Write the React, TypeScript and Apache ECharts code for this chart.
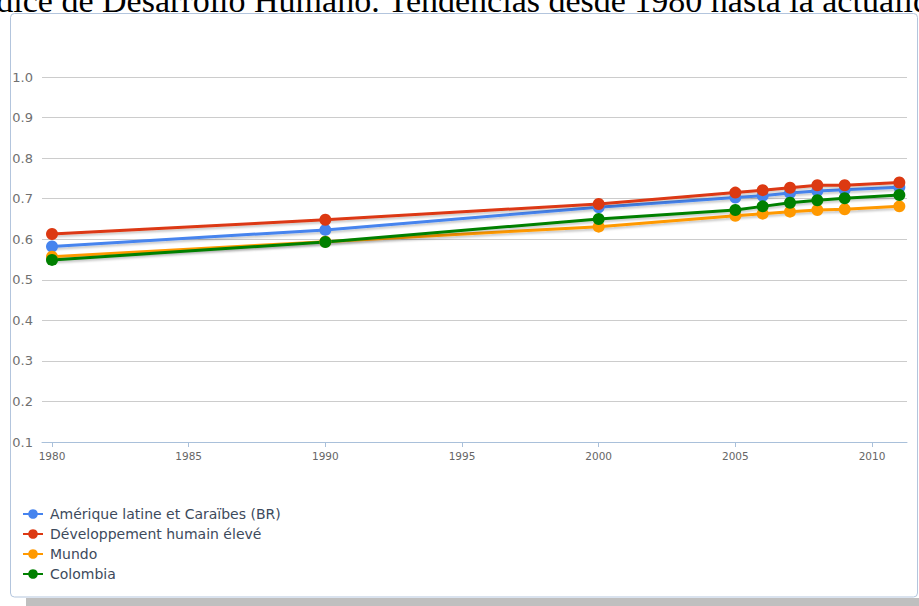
import React, { useEffect, useRef } from "react";
import * as echarts from "echarts";

const years = [1980, 1990, 2000, 2005, 2006, 2007, 2008, 2009, 2011];
const seriesNames = [
  "Amérique latine et Caraïbes (BR)",
  "Développement humain élevé",
  "Mundo",
  "Colombia",
];
const latam = [0.582, 0.623, 0.679, 0.703, 0.707, 0.714, 0.719, 0.722, 0.728];
const highHD = [0.613, 0.648, 0.687, 0.715, 0.721, 0.727, 0.733, 0.733, 0.740];
const world = [0.557, 0.594, 0.631, 0.658, 0.663, 0.668, 0.672, 0.674, 0.681];
const colombia = [0.549, 0.593, 0.650, 0.672, 0.681, 0.690, 0.696, 0.701, 0.709];
const colors = ["#4684ee", "#dc3912", "#ff9900", "#008000"];
const xTicks = [1980, 1985, 1990, 1995, 2000, 2005, 2010];
const titleText = "Índice de Desarrollo Humano. Tendencias desde 1980 hasta la actualidad";

export default function App() {
  const ref = useRef<HTMLDivElement>(null);
  useEffect(() => {
    if (!ref.current) return;
    const chart = echarts.init(ref.current, undefined, { renderer: "svg" });
    const all = [latam, highHD, world, colombia];
    chart.setOption({
      animation: false,
      backgroundColor: "#ffffff",
      color: colors,
      graphic: [
        {
          type: "rect",
          z: -10,
          shape: { x: 10.5, y: 13.5, width: 907, height: 583.5, r: 4 },
          style: { fill: "#ffffff", stroke: "#b3c5dd", lineWidth: 1 },
        },
        {
          type: "rect",
          z: -10,
          shape: { x: 26, y: 598, width: 893, height: 8 },
          style: { fill: "#bfbfbf" },
        },
        {
          type: "text",
          x: -32,
          y: 0.5,
          style: {
            text: titleText,
            font: '34px "Liberation Serif"',
            fill: "#000000",
            verticalAlign: "middle",
            align: "left",
          },
        },
      ],
      legend: {
        orient: "vertical",
        left: 17,
        top: 502,
        itemGap: 6,
        itemWidth: 20,
        itemHeight: 12,
        data: seriesNames,
        textStyle: {
          fontFamily: '"DejaVu Sans", sans-serif',
          fontSize: 14,
          color: "#3d4a5c",
          padding: [0, 0, 0, 2],
        },
      },
      grid: { left: 42, right: 12, top: 77, bottom: 164, containLabel: false },
      xAxis: {
        type: "value",
        min: 1979.634,
        max: 2011.28,
        splitLine: { show: false },
        axisLine: { show: true, lineStyle: { color: "#a9c0da", width: 1 } },
        axisTick: {
          show: true,
          customValues: xTicks,
          length: 5,
          lineStyle: { color: "#a9c0da" },
        },
        axisLabel: {
          customValues: xTicks,
          fontSize: 10.5,
          color: "#666666",
          fontFamily: '"DejaVu Sans", sans-serif',
          margin: 8,
          formatter: (v: number) => String(Math.round(v)),
        },
      },
      yAxis: {
        type: "value",
        min: 0.1,
        max: 1.0,
        interval: 0.1,
        axisLine: { show: false },
        axisTick: { show: false },
        splitLine: { show: true, lineStyle: { color: "#cccccc", width: 1 } },
        axisLabel: {
          fontSize: 13,
          color: "#707070",
          fontFamily: '"DejaVu Sans", sans-serif',
          margin: 9,
          formatter: (v: number) => v.toFixed(1),
        },
      },
      series: seriesNames.map((name, i) => ({
        name,
        type: "line",
        data: years.map((y, j) => [y, all[i][j]]),
        symbol: "circle",
        symbolSize: 12,
        showSymbol: true,
        lineStyle: {
          width: 3,
          color: colors[i],
          shadowColor: "rgba(0,0,0,0.22)",
          shadowBlur: 2,
          shadowOffsetY: 2,
        },
        itemStyle: { color: colors[i] },
        emphasis: { disabled: true },
      })),
    });
    return () => chart.dispose();
  }, []);
  return (
    <div
      ref={ref}
      style={{ position: "absolute", left: 0, top: 0, width: 919, height: 606 }}
    />
  );
}
